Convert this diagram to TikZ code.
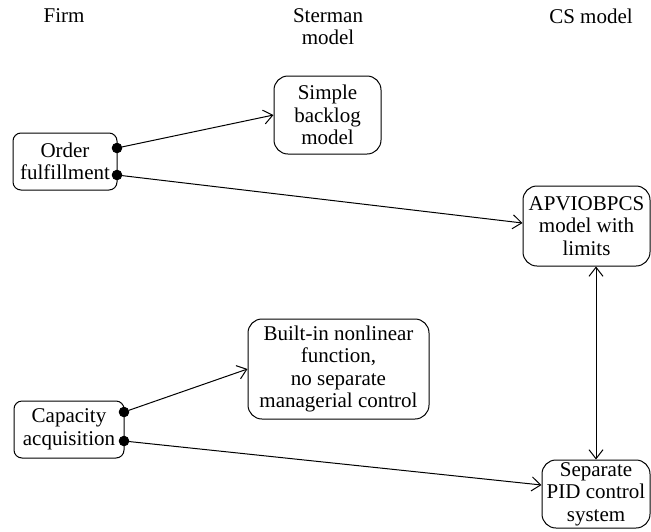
\documentclass[tikz,border=0pt]{standalone}
\usepackage{fontspec}
\setmainfont{Liberation Serif}
\usetikzlibrary{arrows.meta}
\begin{document}
    \begin{tikzpicture}[x=1pt, y=-1pt, line width=1pt,
        font=\fontsize{21}{22.5}\selectfont,
        barb/.tip={Straight Barb[length=9pt, width=14pt]},
        head/.style={anchor=north, align=center, inner sep=0pt},
        box/.style={draw, rounded corners=14pt, align=center, inner sep=2pt},
        firmbox/.style={box, rounded corners=8pt},
        dot/.style={circle, draw, fill, inner sep=0pt, minimum size=9.5pt},
        link/.style={-barb}]
        \useasboundingbox (0,0) rectangle (651,531);
        \node[head] (firm) at (64,8) {Firm};
        \node[head] (sterman) at (328,8) {Sterman\\model};
        \node[head] (cs) at (591,8) {CS model};
        \node[firmbox, minimum width=104pt, minimum height=57pt] (order) at (65,161.5) {Order\\fulfillment};
        \node[firmbox, minimum width=110pt, minimum height=57pt] (capacity) at (69,429.5) {Capacity\\acquisition};
        \node[box, minimum width=107pt, minimum height=78pt] (backlog) at (327.5,115) {Simple\\backlog\\model};
        \node[box, minimum width=181pt, minimum height=100pt] (builtin) at (338.5,369) {Built-in nonlinear\\function,\\no separate\\managerial control};
        \node[box, minimum width=127pt, minimum height=80pt] (apviobpcs) at (586.5,226) {APVIOBPCS\\model with\\limits};
        \node[box, minimum width=108pt, minimum height=68pt] (pid) at (596,494) {Separate\\PID control\\system};
        \node[dot] (order1) at (117,148) {};
        \node[dot] (order2) at (117,175) {};
        \node[dot] (capacity1) at (124,412) {};
        \node[dot] (capacity2) at (124,441) {};
        \draw[link] (order1) -- (backlog.west);
        \draw[link] (order2) -- ([yshift=3pt]apviobpcs.west);
        \draw[link] (capacity1) -- (builtin.west);
        \draw[link] (capacity2) -- ([yshift=9pt]pid.west);
        \draw[barb-barb] (pid.north |- apviobpcs.south) -- (pid.north);
    \end{tikzpicture}
\end{document}
